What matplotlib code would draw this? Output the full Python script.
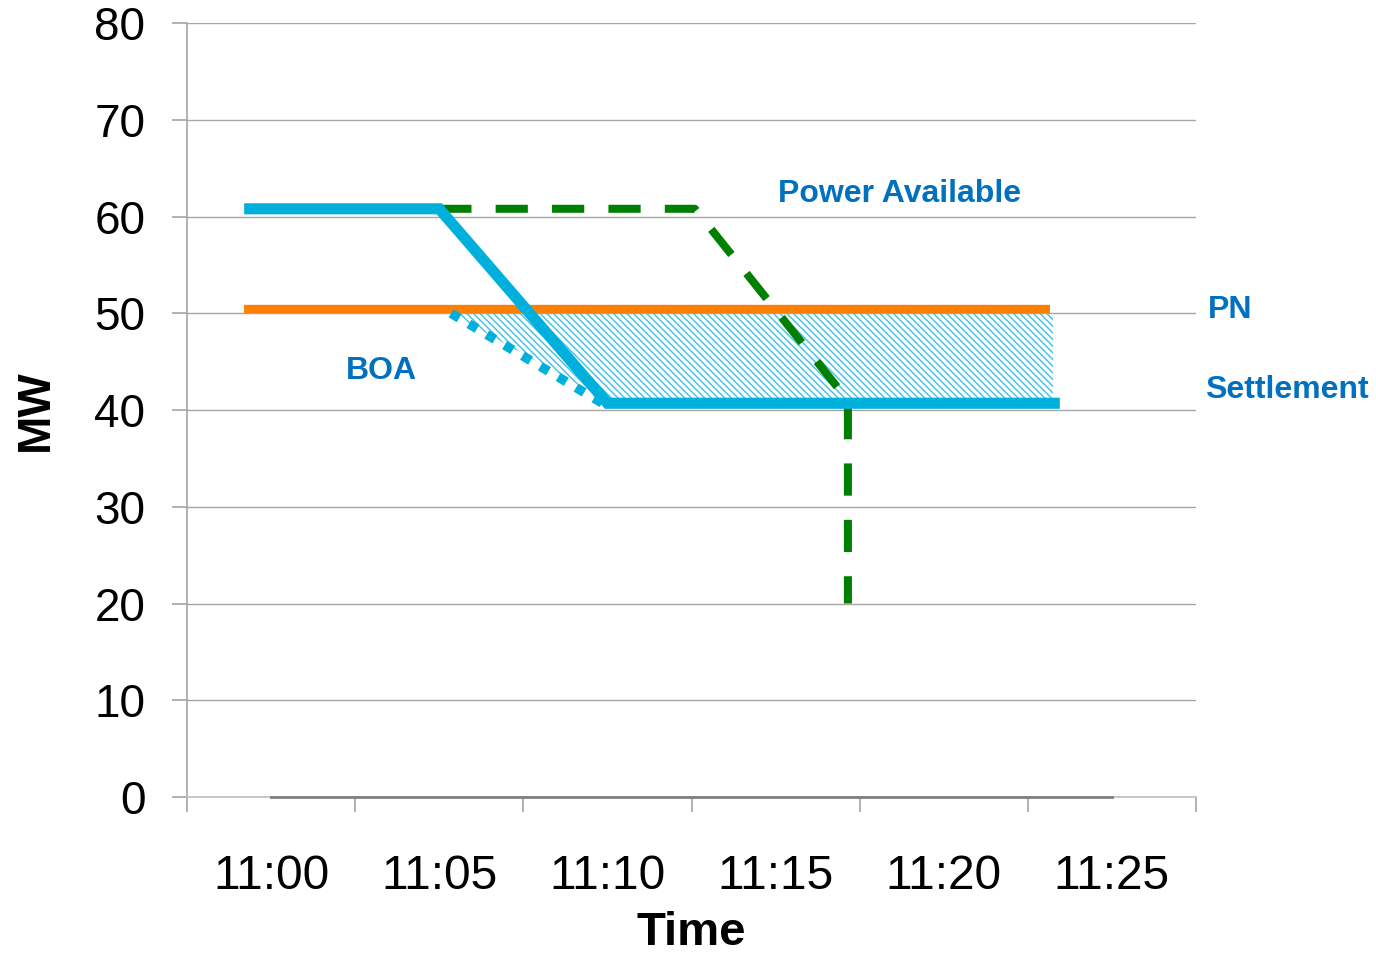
import matplotlib
matplotlib.use("Agg")
import matplotlib.pyplot as plt
import numpy as np

plt.rcParams['font.family'] = ['Liberation Sans', 'DejaVu Sans']
plt.rcParams['hatch.linewidth'] = 1.1

# categories on the time axis
times = ['11:00', '11:05', '11:10', '11:15', '11:20', '11:25']

# series (x in category units, 0 = 11:00)
settle_x = [-0.16, 1.0, 2.0, 4.69]
settle_y = [60.8, 60.8, 40.7, 40.7]
pn_x = [-0.16, 4.63]
pn_y = [50.4, 50.4]
avail_x = [1.0, 2.52, 3.43, 3.43]
avail_y = [60.8, 60.8, 41.0, 20.0]
boa_x = [1.07, 1.99]
boa_y = [50.0, 40.5]
area_x = [1.07, 1.99, 4.65]
area_lo = [50.0, 41.0, 41.0]
area_hi = [50.0, 50.0, 50.0]
base_x = [0, 5]
base_y = [0, 0]

blue = '#00B0DC'
txt_blue = '#0070C0'
grid_c = '#A6A6A6'

fig = plt.figure(figsize=(13.76, 9.56), dpi=100)
ax = fig.add_axes([0.1359, 0.1663, 0.7333, 0.8096])

ax.set_xlim(-0.5, 5.5)
ax.set_ylim(0, 80)

# gridlines
ax.set_yticks(np.arange(0, 81, 10))
ax.yaxis.grid(True, color=grid_c, lw=1.0)
ax.set_axisbelow(True)

# hatched area
ax.fill_between(area_x, area_lo, area_hi, facecolor='none', edgecolor='#4CC4E6',
                hatch='\\\\\\\\\\', lw=0)

ax.plot(base_x, base_y, color='#808080', lw=2.0, clip_on=False, zorder=3)
ax.plot(pn_x, pn_y, color='#FF7F00', lw=6, solid_capstyle='butt', zorder=4)
ax.plot(avail_x, avail_y, color='#008000', lw=5.8, dashes=(4.0, 3.0),
        dash_capstyle='butt', zorder=5)
ax.plot(boa_x, boa_y, color=blue, lw=6.8, dashes=(1.0, 1.2),
        dash_capstyle='butt', zorder=5)
ax.plot(settle_x, settle_y, color=blue, lw=8, solid_capstyle='butt',
        solid_joinstyle='miter', zorder=6)

# axes styling
for s in ['top', 'right']:
    ax.spines[s].set_visible(False)
ax.spines['left'].set_color(grid_c)
ax.spines['bottom'].set_color('#BFBFBF')
ax.spines['left'].set_linewidth(1.2)
ax.spines['bottom'].set_linewidth(1.2)

ax.set_xticks(range(len(times)))
ax.set_xticklabels(times, fontsize=34.5)
ax.set_xticks(np.arange(-0.5, 5.6, 1.0), minor=True)
ax.tick_params(axis='x', which='major', length=0, pad=41)
ax.tick_params(axis='x', which='minor', length=11, color=grid_c, width=1.2)
ax.tick_params(axis='y', length=11, color=grid_c, width=1.2, pad=19,
               labelsize=33)

ax.set_xlabel('Time', fontsize=34, fontweight='bold', labelpad=9)
ax.set_ylabel('MW', fontsize=33, fontweight='bold', labelpad=26)

# annotations
ann = dict(color=txt_blue, fontsize=23, fontweight='bold', ha='center',
           va='center', clip_on=False)
ax.text(3.74, 62.3, 'Power Available', **ann)
ax.text(5.70, 50.3, 'PN', **ann)
ax.text(6.04, 42.1, 'Settlement', **ann)
ax.text(0.655, 44.0, 'BOA', **ann)

fig.savefig('out.png', dpi=100)
